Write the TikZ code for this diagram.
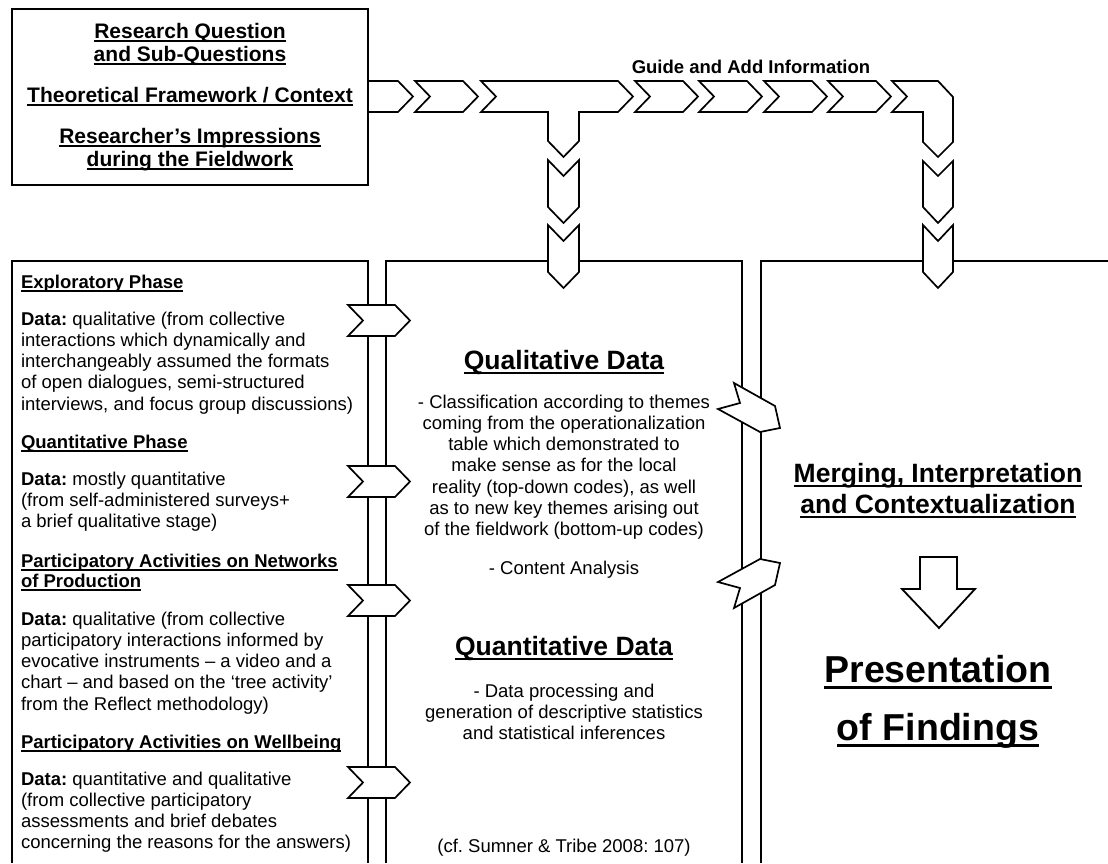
\documentclass[tikz,border=0pt]{standalone}
\usepackage{fontspec}
\setmainfont{Liberation Sans}
\frenchspacing
\newcommand\ulx[1]{\setbox0\hbox{#1}\leavevmode\rlap{\rule[-0.19em]{\wd0}{0.075em}}\box0}
\newcommand\Lt[1]{\begin{tabular}[t]{@{}l@{}}#1\end{tabular}}
\newcommand\Ct[1]{\begin{tabular}[t]{@{}c@{}}#1\end{tabular}}
\tikzset{
  pane/.style={line width=2pt},
  chev/.style={draw, fill=white, line width=1.7pt, line join=miter},
  bodyl/.style={inner sep=0pt, outer sep=0pt, font=\fontsize{18.5}{21.3}\selectfont, anchor=base west},
  headl/.style={inner sep=0pt, outer sep=0pt, font=\fontsize{18.5}{20.3}\selectfont\bfseries, anchor=base west},
  bodyc/.style={inner sep=0pt, outer sep=0pt, font=\fontsize{18.5}{21.3}\selectfont, anchor=base},
  bighead/.style={inner sep=0pt, outer sep=0pt, font=\fontsize{26.5}{31}\selectfont\bfseries, anchor=base},
  tophead/.style={inner sep=0pt, outer sep=0pt, font=\fontsize{21}{23}\selectfont\bfseries, anchor=base},
  huge/.style={inner sep=0pt, outer sep=0pt, font=\fontsize{37.5}{58}\selectfont\bfseries, anchor=base},
}
\begin{document}
\begin{tikzpicture}[x=1pt, y=-1pt]
\path[use as bounding box] (0,0) rectangle (1108,863);

% panels
\draw[pane] (12,863) -- (12,261) -- (368,261) -- (368,863);
\draw[pane] (386,863) -- (386,261) -- (742,261) -- (742,863);
\draw[pane] (761,863) -- (761,261) -- (1108,261);

% top chevron row
\draw[chev] (350,81) -- (398,81) -- (413,96.5) -- (398,112) -- (350,112) -- (365,96.5) -- cycle;
\draw[chev] (415,81) -- (463,81) -- (478,96.5) -- (463,112) -- (415,112) -- (430,96.5) -- cycle;
\draw[chev] (481,81) -- (618,81) -- (633,96.5) -- (618,112) -- (579,112) -- (579,141) -- (563.5,157) -- (548,141) -- (548,112) -- (481,112) -- (496,96.5) -- cycle;
\draw[chev] (635,81) -- (683,81) -- (698,96.5) -- (683,112) -- (635,112) -- (650,96.5) -- cycle;
\draw[chev] (699,81) -- (747,81) -- (762,96.5) -- (747,112) -- (699,112) -- (714,96.5) -- cycle;
\draw[chev] (764,81) -- (812,81) -- (827,96.5) -- (812,112) -- (764,112) -- (779,96.5) -- cycle;
\draw[chev] (828,81) -- (876,81) -- (891,96.5) -- (876,112) -- (828,112) -- (843,96.5) -- cycle;
\draw[chev] (892,81) -- (938,81) -- (953,97) -- (953,142) -- (938,157) -- (923,142) -- (923,112) -- (892,112) -- (907,96.5) -- cycle;

% top box
\draw[pane, fill=white] (12,9) rectangle (368,185);
\node[tophead] (rq) at (190,38) {\Ct{\ulx{Research Question}\\\ulx{and Sub-Questions}}};
\node[tophead] (tf) at (190,102) {\ulx{Theoretical Framework / Context}};
\node[tophead] (ri) at (190,143) {\Ct{\ulx{Researcher’s Impressions}\\\ulx{during the Fieldwork}}};
\node[inner sep=0pt, font=\fontsize{18.5}{20}\selectfont\bfseries, anchor=base] (guide) at (751,73) {Guide and Add Information};

% vertical chevrons, middle column
\draw[chev] (548,160) -- (563.5,176) -- (579,160) -- (579,207) -- (563.5,223) -- (548,207) -- cycle;
\draw[chev] (548,225) -- (563.5,241) -- (579,225) -- (579,272) -- (563.5,288) -- (548,272) -- cycle;
% vertical chevrons, right column
\draw[chev] (923,161) -- (938,176) -- (953,161) -- (953,207) -- (938,223) -- (923,207) -- cycle;
\draw[chev] (923,225) -- (938,241) -- (953,225) -- (953,272) -- (938,288) -- (923,272) -- cycle;

% left-to-middle chevrons
\foreach \t/\b in {305/336, 466/497, 585/616, 767/798}{
  \draw[chev] (348,\t) -- (395,\t) -- (410,{(\t+\b)/2}) -- (395,\b) -- (348,\b) -- (363,{(\t+\b)/2}) -- cycle;
}

% tilted arrows middle-to-right
\draw[chev] (734,383) -- (775,406) -- (780,428) -- (760,432) -- (718,409) -- (740,403) -- cycle;
\draw[chev] (734,608) -- (775,585) -- (780,563) -- (760,559) -- (718,582) -- (740,588) -- cycle;

% left panel texts
\node[headl] (eh) at (21,288) {\ulx{Exploratory Phase}};
\node[bodyl] (ed) at (21,325) {\Lt{\textbf{Data:} qualitative (from collective\\interactions which dynamically and\\interchangeably assumed the formats\\of open dialogues, semi-structured\\interviews, and focus group discussions)}};
\node[headl] (qh) at (21,448) {\ulx{Quantitative Phase}};
\node[bodyl] (qd) at (21,485) {\Lt{\textbf{Data:} mostly quantitative\\(from self-administered surveys+\\a brief qualitative stage)}};
\node[headl] (nh) at (21,567) {\Lt{\ulx{Participatory Activities on Networks}\\\ulx{of Production}}};
\node[bodyl] (nd) at (21,625) {\Lt{\textbf{Data:} qualitative (from collective\\participatory interactions informed by\\evocative instruments – a video and a\\chart – and based on the ‘tree activity’\\from the Reflect methodology)}};
\node[headl] (wh) at (21,748) {\ulx{Participatory Activities on Wellbeing}};
\node[bodyl] (wd) at (21,785) {\Lt{\textbf{Data:} quantitative and qualitative\\(from collective participatory\\assessments and brief debates\\concerning the reasons for the answers)}};

% middle panel texts
\node[bighead] (qlh) at (564,369) {\ulx{Qualitative Data}};
\node[bodyc] (qlb) at (564,408) {\Ct{- Classification according to themes\\coming from the operationalization\\table which demonstrated to\\make sense as for the local\\reality (top-down codes), as well\\as to new key themes arising out\\of the fieldwork (bottom-up codes)}};
\node[bodyc] (ca) at (564,574) {- Content Analysis};
\node[bighead] (qnh) at (564,655) {\ulx{Quantitative Data}};
\node[bodyc] (qnb) at (564,697) {\Ct{- Data processing and\\generation of descriptive statistics\\and statistical inferences}};
\node[bodyc] (cit) at (564,852) {(cf. Sumner \& Tribe 2008: 107)};

% right panel
\node[bighead] (mer) at (938,482) {\Ct{\ulx{Merging, Interpretation}\\\ulx{and Contextualization}}};
\draw[chev, line width=1.8pt] (920,557) -- (957,557) -- (957,589) -- (975,589) -- (939,628) -- (902,589) -- (920,589) -- cycle;
\node[huge] (pres) at (938,682) {\Ct{\ulx{Presentation}\\\ulx{of Findings}}};
\end{tikzpicture}
\end{document}
